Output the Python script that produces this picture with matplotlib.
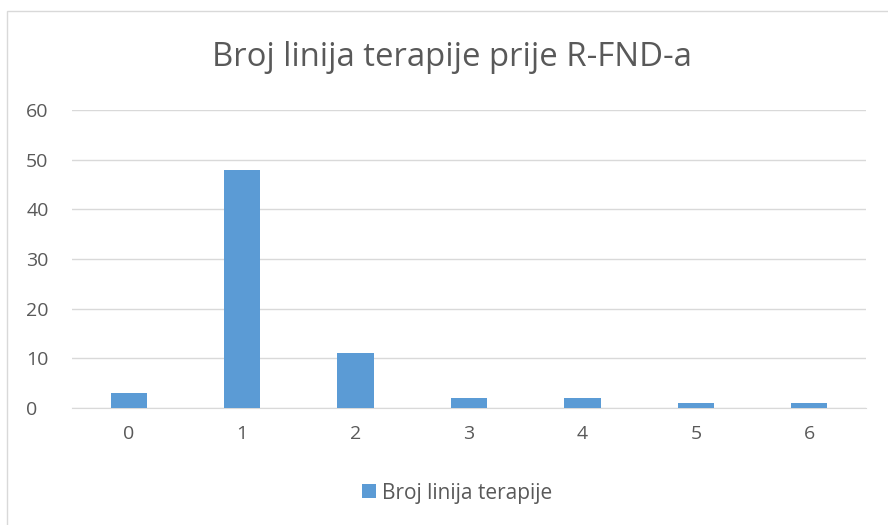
import matplotlib.pyplot as plt
from matplotlib.patches import Rectangle

# broj linija terapije -> broj bolesnika
categories = ['0', '1', '2', '3', '4', '5', '6']
values = [3, 48, 11, 2, 2, 1, 1]
yticks = [0, 10, 20, 30, 40, 50, 60]

plt.rcParams['font.family'] = ['Open Sans', 'DejaVu Sans']

fig = plt.figure(figsize=(8.88, 5.25), dpi=100)
ax = fig.add_axes([72 / 888, 1 - 408 / 525, (866 - 72) / 888, (408 - 110) / 525])

x = range(len(categories))
ax.bar(x, values, width=0.32, color='#5b9bd5', label='Broj linija terapije', zorder=3)

ax.set_xlim(-0.5, len(categories) - 0.5)
ax.set_ylim(0, 60)
ax.set_yticks(yticks)
ax.set_xticks(list(x))
ax.set_xticklabels(categories)
ax.grid(axis='y', color='#d9d9d9', linewidth=1, zorder=0)
for s in ['top', 'right', 'left']:
    ax.spines[s].set_visible(False)
ax.spines['bottom'].set_color('#d9d9d9')
ax.tick_params(length=0, labelsize=14, labelcolor='#595959')
ax.tick_params(axis='x', pad=12)
ax.tick_params(axis='y', pad=33)
for lab in ax.get_yticklabels():
    lab.set_horizontalalignment('left')

fig.text(452 / 888, 1 - 58 / 525, 'Broj linija terapije prije R-FND-a',
         ha='center', va='center', fontsize=23.7, color='#595959')

# chart border
fig.patches.append(Rectangle((7 / 888, -0.1), 1.1, 1 - 11 / 525 + 0.1,
                             transform=fig.transFigure, fill=False,
                             edgecolor='#d9d9d9', linewidth=1))

fig.legend(loc='center', bbox_to_anchor=(457 / 888, 1 - 493 / 525), frameon=False,
           fontsize=15, labelcolor='#595959', handlelength=0.65, handleheight=0.65,
           handletextpad=0.3)

fig.savefig('out.png', dpi=100)
